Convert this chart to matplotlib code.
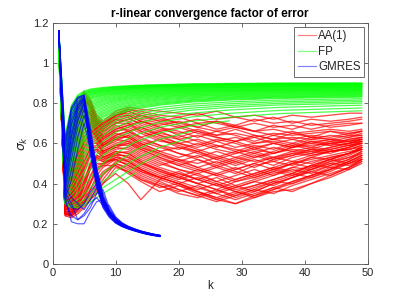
import numpy as np
import matplotlib
matplotlib.use("Agg")
import matplotlib.pyplot as plt
from matplotlib.ticker import FuncFormatter
from matplotlib.lines import Line2D

plt.rcParams['font.family'] = ['Liberation Sans', 'DejaVu Sans']

# ---------------- data ----------------
labels = ["AA(1)", "FP", "GMRES"]

# AA(1) curves (red), values at aa_k
aa_k = [1, 2, 3, 4, 5, 6, 7, 8, 10, 12, 14, 17, 20, 23, 26, 29, 32, 35, 38, 41, 44, 47, 49]
aa_curves = [
    [1.16,0.36,0.62,0.80,0.86,0.82,0.74,0.71,0.76,0.78,0.77,0.76,0.75,0.74,0.76,0.73,0.74,0.72,0.74,0.73,0.74,0.75,0.75],
    [1.16,0.34,0.58,0.78,0.85,0.80,0.72,0.70,0.75,0.77,0.76,0.74,0.73,0.75,0.72,0.73,0.71,0.73,0.70,0.72,0.71,0.72,0.73],
    [1.15,0.33,0.55,0.75,0.84,0.79,0.71,0.69,0.74,0.76,0.74,0.72,0.70,0.72,0.70,0.68,0.70,0.68,0.69,0.67,0.69,0.70,0.70],
    [1.15,0.32,0.52,0.72,0.83,0.77,0.70,0.68,0.72,0.74,0.71,0.69,0.71,0.68,0.66,0.68,0.66,0.67,0.65,0.66,0.67,0.66,0.67],
    [1.14,0.31,0.48,0.69,0.81,0.76,0.70,0.66,0.70,0.72,0.70,0.67,0.65,0.67,0.64,0.65,0.63,0.65,0.64,0.65,0.66,0.65,0.66],
    [1.14,0.30,0.44,0.65,0.78,0.74,0.68,0.64,0.68,0.70,0.67,0.64,0.62,0.64,0.61,0.63,0.60,0.62,0.63,0.62,0.64,0.63,0.65],
    [1.13,0.30,0.40,0.60,0.74,0.72,0.66,0.62,0.66,0.68,0.65,0.61,0.60,0.58,0.61,0.58,0.60,0.61,0.59,0.62,0.61,0.63,0.64],
    [1.13,0.29,0.37,0.55,0.70,0.70,0.65,0.60,0.64,0.66,0.62,0.59,0.57,0.60,0.57,0.55,0.58,0.60,0.58,0.60,0.62,0.61,0.63],
    [1.12,0.29,0.34,0.50,0.65,0.68,0.63,0.58,0.62,0.64,0.60,0.56,0.58,0.55,0.52,0.55,0.57,0.55,0.58,0.59,0.60,0.61,0.62],
    [1.12,0.28,0.32,0.45,0.60,0.65,0.62,0.57,0.60,0.62,0.58,0.55,0.52,0.50,0.53,0.50,0.53,0.55,0.57,0.56,0.58,0.60,0.61],
    [1.11,0.28,0.30,0.40,0.55,0.62,0.60,0.55,0.58,0.60,0.56,0.52,0.49,0.52,0.48,0.51,0.48,0.52,0.54,0.56,0.55,0.58,0.60],
    [1.11,0.27,0.29,0.36,0.50,0.58,0.58,0.54,0.57,0.58,0.54,0.50,0.47,0.45,0.48,0.45,0.49,0.51,0.49,0.53,0.56,0.57,0.59],
    [1.10,0.27,0.28,0.33,0.45,0.54,0.56,0.53,0.55,0.56,0.52,0.48,0.45,0.42,0.45,0.42,0.45,0.48,0.51,0.50,0.53,0.55,0.58],
    [1.10,0.26,0.27,0.31,0.40,0.50,0.54,0.52,0.54,0.54,0.50,0.46,0.43,0.40,0.37,0.41,0.43,0.46,0.44,0.48,0.51,0.54,0.57],
    [1.09,0.26,0.26,0.29,0.34,0.40,0.46,0.49,0.53,0.52,0.48,0.44,0.41,0.38,0.35,0.38,0.41,0.39,0.43,0.46,0.49,0.52,0.55],
    [1.09,0.25,0.25,0.28,0.31,0.34,0.39,0.44,0.51,0.50,0.46,0.42,0.39,0.36,0.33,0.36,0.34,0.38,0.41,0.44,0.47,0.50,0.53],
    [1.08,0.25,0.24,0.27,0.30,0.33,0.37,0.42,0.50,0.48,0.44,0.40,0.37,0.34,0.31,0.34,0.37,0.35,0.39,0.42,0.45,0.48,0.51],
    [1.08,0.24,0.24,0.26,0.29,0.32,0.35,0.40,0.48,0.46,0.42,0.38,0.40,0.36,0.32,0.30,0.33,0.36,0.37,0.40,0.43,0.47,0.50],
    [1.15,0.35,0.60,0.79,0.85,0.81,0.73,0.70,0.74,0.75,0.72,0.70,0.68,0.70,0.67,0.69,0.66,0.64,0.66,0.63,0.62,0.61,0.62],
    [1.14,0.33,0.50,0.71,0.82,0.78,0.71,0.67,0.71,0.73,0.69,0.66,0.68,0.65,0.63,0.61,0.63,0.60,0.62,0.60,0.59,0.60,0.61],
    [1.13,0.31,0.42,0.62,0.76,0.73,0.67,0.63,0.67,0.69,0.66,0.63,0.60,0.62,0.59,0.57,0.55,0.58,0.56,0.58,0.57,0.59,0.60],
    [1.12,0.29,0.35,0.52,0.67,0.69,0.64,0.59,0.63,0.65,0.61,0.58,0.55,0.53,0.56,0.53,0.51,0.53,0.55,0.54,0.56,0.57,0.58],
    [1.11,0.28,0.31,0.42,0.57,0.63,0.61,0.56,0.59,0.61,0.57,0.53,0.50,0.47,0.44,0.47,0.50,0.47,0.50,0.52,0.54,0.56,0.57],
    [1.10,0.27,0.28,0.34,0.47,0.55,0.57,0.53,0.56,0.55,0.51,0.46,0.43,0.40,0.43,0.39,0.42,0.45,0.48,0.47,0.51,0.53,0.56],
    [1.09,0.26,0.26,0.30,0.38,0.48,0.53,0.51,0.52,0.51,0.47,0.43,0.40,0.37,0.40,0.37,0.39,0.42,0.45,0.49,0.48,0.51,0.54],
    [1.08,0.25,0.25,0.28,0.32,0.40,0.48,0.49,0.49,0.45,0.41,0.36,0.39,0.35,0.32,0.35,0.38,0.41,0.40,0.43,0.46,0.50,0.52],
    [1.08,0.24,0.23,0.25,0.28,0.32,0.36,0.40,0.45,0.40,0.32,0.42,0.45,0.42,0.39,0.42,0.45,0.48,0.46,0.49,0.52,0.50,0.53],
    [1.15,0.34,0.57,0.77,0.85,0.80,0.72,0.69,0.73,0.76,0.73,0.71,0.73,0.70,0.71,0.69,0.72,0.70,0.71,0.69,0.70,0.71,0.72],
    [1.14,0.32,0.50,0.70,0.82,0.77,0.70,0.67,0.72,0.71,0.68,0.65,0.63,0.66,0.63,0.61,0.64,0.62,0.60,0.63,0.62,0.64,0.64],
    [1.13,0.30,0.43,0.63,0.77,0.74,0.68,0.64,0.69,0.66,0.63,0.66,0.62,0.59,0.62,0.60,0.57,0.60,0.58,0.61,0.60,0.62,0.63],
    [1.12,0.29,0.36,0.54,0.69,0.70,0.65,0.61,0.65,0.63,0.59,0.62,0.58,0.56,0.53,0.56,0.53,0.56,0.59,0.57,0.60,0.59,0.61],
    [1.11,0.28,0.31,0.44,0.58,0.64,0.62,0.58,0.61,0.64,0.60,0.56,0.53,0.56,0.52,0.49,0.52,0.49,0.53,0.55,0.57,0.59,0.60],
    [1.10,0.27,0.28,0.35,0.48,0.56,0.57,0.55,0.58,0.57,0.53,0.49,0.52,0.48,0.45,0.48,0.44,0.47,0.50,0.53,0.52,0.55,0.58],
    [1.09,0.26,0.26,0.30,0.39,0.47,0.52,0.51,0.55,0.53,0.49,0.45,0.42,0.45,0.41,0.38,0.41,0.44,0.47,0.45,0.49,0.52,0.56],
    [1.08,0.25,0.24,0.27,0.31,0.37,0.44,0.48,0.52,0.49,0.45,0.41,0.37,0.34,0.37,0.33,0.36,0.40,0.43,0.46,0.44,0.48,0.52],
    [1.15,0.33,0.54,0.74,0.84,0.78,0.71,0.68,0.73,0.74,0.71,0.68,0.66,0.63,0.66,0.64,0.61,0.64,0.62,0.64,0.63,0.65,0.66],
    [1.13,0.30,0.45,0.64,0.78,0.75,0.69,0.65,0.70,0.70,0.66,0.62,0.59,0.56,0.59,0.56,0.59,0.57,0.60,0.58,0.61,0.60,0.62],
    [1.12,0.29,0.38,0.56,0.71,0.71,0.66,0.62,0.66,0.67,0.63,0.59,0.55,0.52,0.49,0.52,0.55,0.52,0.55,0.57,0.56,0.58,0.60],
    [1.11,0.28,0.33,0.47,0.61,0.66,0.63,0.59,0.63,0.63,0.59,0.55,0.51,0.48,0.51,0.47,0.50,0.53,0.51,0.54,0.56,0.57,0.59],
    [1.10,0.27,0.29,0.38,0.51,0.58,0.59,0.56,0.59,0.59,0.55,0.51,0.47,0.44,0.41,0.44,0.47,0.44,0.48,0.51,0.53,0.55,0.57],
    [1.09,0.26,0.27,0.32,0.42,0.50,0.54,0.53,0.56,0.55,0.51,0.47,0.44,0.40,0.37,0.34,0.37,0.41,0.44,0.47,0.50,0.53,0.55],
    [1.08,0.25,0.25,0.29,0.34,0.41,0.47,0.50,0.53,0.51,0.47,0.43,0.40,0.36,0.33,0.30,0.34,0.37,0.41,0.44,0.47,0.51,0.54],
    [1.09,0.25,0.25,0.28,0.32,0.37,0.42,0.46,0.50,0.47,0.43,0.39,0.36,0.39,0.35,0.32,0.35,0.38,0.36,0.40,0.44,0.48,0.52],
    [1.14,0.32,0.52,0.73,0.83,0.79,0.72,0.69,0.74,0.77,0.75,0.73,0.70,0.68,0.71,0.68,0.66,0.69,0.67,0.70,0.68,0.69,0.70],
    [1.13,0.31,0.46,0.66,0.79,0.75,0.69,0.66,0.70,0.72,0.74,0.71,0.69,0.66,0.64,0.67,0.64,0.62,0.65,0.63,0.66,0.64,0.66],
    [1.12,0.29,0.40,0.58,0.73,0.72,0.67,0.63,0.67,0.69,0.71,0.68,0.64,0.61,0.58,0.61,0.58,0.55,0.58,0.61,0.59,0.62,0.63],
    [1.11,0.28,0.34,0.49,0.63,0.67,0.64,0.60,0.64,0.66,0.68,0.64,0.60,0.57,0.54,0.51,0.54,0.51,0.54,0.57,0.56,0.58,0.61],
    [1.09,0.26,0.25,0.29,0.36,0.44,0.50,0.50,0.52,0.49,0.46,0.43,0.46,0.42,0.39,0.36,0.39,0.42,0.45,0.43,0.47,0.51,0.54],
    [1.10,0.27,0.27,0.31,0.41,0.49,0.53,0.52,0.55,0.53,0.50,0.47,0.43,0.47,0.44,0.41,0.44,0.47,0.45,0.49,0.52,0.55,0.57],
    [1.08,0.25,0.24,0.27,0.30,0.35,0.40,0.45,0.49,0.46,0.42,0.39,0.35,0.33,0.36,0.39,0.36,0.40,0.43,0.47,0.50,0.49,0.52],
    [1.11,0.28,0.30,0.39,0.53,0.60,0.60,0.56,0.59,0.60,0.57,0.53,0.49,0.46,0.49,0.46,0.43,0.46,0.50,0.48,0.52,0.55,0.58],
    [1.12,0.29,0.33,0.48,0.63,0.67,0.63,0.59,0.62,0.61,0.58,0.54,0.51,0.54,0.50,0.53,0.56,0.53,0.56,0.55,0.58,0.60,0.62],
    [1.09,0.26,0.26,0.29,0.35,0.43,0.49,0.50,0.54,0.51,0.47,0.43,0.40,0.43,0.40,0.36,0.33,0.37,0.40,0.44,0.48,0.47,0.51],
]

# FP curves (green), values at fp_k (None = iteration stopped)
fp_k = [1, 2, 3, 4, 5, 6, 8, 10, 13, 17, 22, 28, 36, 49]
fp_curves = [
    [1.16,0.64,0.79,0.84,0.86,0.87,0.878,0.883,0.888,0.892,0.896,0.898,0.90,0.90],
    [1.16,0.62,0.78,0.835,0.855,0.866,0.875,0.880,0.886,0.890,0.894,0.896,0.898,0.899],
    [1.16,0.60,0.77,0.83,0.85,0.862,0.872,0.878,0.884,0.889,0.893,0.895,0.897,0.898],
    [1.15,0.58,0.76,0.825,0.848,0.859,0.869,0.875,0.882,0.887,0.891,0.893,0.895,0.896],
    [1.15,0.57,0.75,0.82,0.845,0.856,0.866,0.873,0.880,0.886,0.890,0.892,0.894,0.895],
    [1.15,0.56,0.74,0.81,0.84,0.852,0.863,0.870,0.878,0.884,0.888,0.890,0.892,0.894],
    [1.15,0.55,0.73,0.80,0.835,0.848,0.860,0.868,0.876,0.882,0.886,0.889,0.891,0.892],
    [1.14,0.53,0.72,0.795,0.83,0.844,0.856,0.865,0.873,0.880,0.884,0.887,0.889,0.891],
    [1.14,0.52,0.71,0.79,0.825,0.840,0.853,0.862,0.871,0.878,0.882,0.885,0.887,0.889],
    [1.14,0.51,0.70,0.78,0.818,0.835,0.849,0.858,0.868,0.875,0.880,0.883,0.885,0.887],
    [1.14,0.50,0.69,0.77,0.81,0.830,0.845,0.855,0.865,0.872,0.877,0.880,0.883,0.885],
    [1.13,0.49,0.68,0.76,0.805,0.825,0.841,0.851,0.861,0.869,0.874,0.878,0.881,0.883],
    [1.13,0.48,0.67,0.75,0.80,0.820,0.837,0.848,0.858,0.866,0.872,0.876,0.879,0.881],
    [1.13,0.47,0.66,0.74,0.79,0.812,0.831,0.844,0.854,0.863,0.869,0.873,0.876,0.879],
    [1.13,0.46,0.65,0.73,0.78,0.805,0.826,0.840,0.851,0.860,0.866,0.870,0.874,0.877],
    [1.12,0.455,0.635,0.72,0.77,0.797,0.820,0.835,0.847,0.856,0.863,0.867,0.871,0.874],
    [1.12,0.45,0.62,0.71,0.76,0.790,0.815,0.830,0.843,0.853,0.860,0.865,0.869,0.872],
    [1.12,0.445,0.61,0.70,0.75,0.782,0.809,0.825,0.839,0.849,0.857,0.862,0.866,0.869],
    [1.12,0.44,0.60,0.69,0.74,0.775,0.803,0.820,0.835,0.846,0.854,0.859,0.864,0.867],
    [1.11,0.435,0.59,0.68,0.73,0.767,0.796,0.815,0.830,0.842,0.850,0.856,0.861,0.864],
    [1.11,0.43,0.58,0.67,0.72,0.760,0.790,0.810,0.826,0.838,0.847,0.853,0.858,0.862],
    [1.11,0.425,0.57,0.66,0.71,0.75,0.782,0.804,0.821,0.834,0.843,0.849,0.855,0.859],
    [1.11,0.42,0.56,0.65,0.70,0.74,0.775,0.798,0.816,0.830,0.840,0.846,0.852,0.856],
    [1.10,0.415,0.55,0.635,0.69,0.73,0.767,0.791,0.810,0.825,0.836,0.842,0.848,0.853],
    [1.10,0.41,0.54,0.62,0.68,0.72,0.76,0.785,0.805,0.821,0.832,0.839,0.845,0.850],
    [1.10,0.405,0.53,0.61,0.67,0.71,0.752,0.778,0.799,0.816,0.827,0.835,0.841,0.847],
    [1.10,0.40,0.52,0.60,0.66,0.70,0.745,0.772,0.794,0.811,0.823,0.831,0.838,0.844],
    [1.09,0.395,0.51,0.59,0.645,0.69,0.737,0.765,0.788,0.805,0.818,0.827,0.834,0.840],
    [1.09,0.39,0.50,0.58,0.63,0.68,0.73,0.758,0.782,0.800,0.814,0.823,0.831,0.837],
    [1.09,0.385,0.49,0.57,0.62,0.67,0.72,0.75,0.776,0.795,0.810,0.819,0.827,0.833],
    [1.09,0.38,0.48,0.56,0.61,0.66,0.71,0.743,0.770,0.790,0.805,0.815,0.823,0.830],
    [1.08,0.37,0.46,0.53,0.59,0.64,0.69,0.727,0.757,0.779,0.795,0.806,0.815,0.822],
    [1.08,0.36,0.44,0.51,0.57,0.62,0.675,0.712,0.744,0.768,0.785,0.797,0.807,0.815],
    [1.07,0.35,0.42,0.49,0.55,0.60,0.66,0.697,0.730,0.756,0.775,0.788,0.799,0.808],
    [1.07,0.34,0.40,0.47,0.53,0.58,0.64,0.680,0.716,0.744,0.765,0.779,0.791,0.800],
    [1.06,0.33,0.38,0.44,0.50,0.55,0.61,0.655,0.695,0.727,0.750,0.766,0.779,0.790],
    [1.06,0.33,0.36,0.41,0.46,0.51,0.58,0.625,0.668,0.705,0.731,0.749,0.764,0.776],
    [1.05,0.32,0.34,0.38,0.43,0.47,0.54,0.59,0.64,0.68,0.71,0.73,0.748,0.762],
    [1.05,0.31,0.32,0.35,0.39,0.43,0.50,0.55,0.605,0.652,0.688,0.712,None,None],
    [1.04,0.31,0.30,0.32,0.35,0.38,0.45,0.50,0.565,0.62,0.66,None,None,None],
    [1.04,0.30,0.29,0.30,0.32,0.35,0.41,0.46,0.52,0.58,0.63,None,None,None],
    [1.03,0.30,0.28,0.29,0.30,0.33,0.38,0.42,0.48,0.55,None,None,None,None],
    [1.03,0.30,0.28,0.28,0.29,0.31,0.35,0.39,0.45,None,None,None,None,None],
]

# GMRES curves (blue), values at gmres_k
gmres_k = list(range(1, 18))
gmres_curves = [
    [1.16,0.62,0.78,0.83,0.84,0.62,0.43,0.31,0.25,0.215,0.195,0.18,0.17,0.16,0.152,0.145,0.14],
    [1.16,0.60,0.77,0.825,0.84,0.68,0.48,0.35,0.27,0.228,0.202,0.186,0.174,0.164,0.156,0.148,0.143],
    [1.16,0.58,0.76,0.82,0.835,0.60,0.42,0.30,0.245,0.21,0.19,0.178,0.168,0.158,0.15,0.144,0.139],
    [1.16,0.55,0.74,0.81,0.83,0.64,0.45,0.32,0.255,0.22,0.197,0.182,0.171,0.161,0.153,0.146,0.141],
    [1.16,0.52,0.72,0.80,0.825,0.58,0.40,0.29,0.24,0.207,0.188,0.176,0.166,0.157,0.149,0.143,0.138],
    [1.16,0.50,0.70,0.79,0.83,0.54,0.38,0.28,0.232,0.203,0.186,0.174,0.164,0.155,0.147,0.141,0.136],
    [1.16,0.48,0.69,0.79,0.82,0.66,0.47,0.34,0.265,0.225,0.20,0.185,0.173,0.163,0.155,0.147,0.142],
    [1.16,0.45,0.66,0.78,0.815,0.56,0.39,0.285,0.235,0.205,0.187,0.175,0.165,0.156,0.148,0.142,0.137],
    [1.16,0.44,0.64,0.77,0.82,0.65,0.46,0.33,0.26,0.222,0.198,0.183,0.172,0.162,0.154,0.147,0.142],
    [1.16,0.42,0.63,0.76,0.81,0.62,0.44,0.31,0.25,0.213,0.192,0.179,0.169,0.159,0.151,0.145,0.14],
    [1.16,0.40,0.60,0.74,0.80,0.60,0.41,0.30,0.245,0.21,0.19,0.177,0.167,0.158,0.15,0.144,0.139],
    [1.16,0.38,0.58,0.72,0.80,0.58,0.40,0.30,0.242,0.208,0.189,0.176,0.166,0.157,0.149,0.143,0.138],
    [1.16,0.37,0.56,0.71,0.79,0.63,0.46,0.33,0.26,0.22,0.196,0.181,0.17,0.16,0.152,0.146,0.141],
    [1.16,0.35,0.52,0.68,0.77,0.59,0.42,0.31,0.25,0.214,0.193,0.179,0.168,0.159,0.151,0.145,0.14],
    [1.16,0.33,0.47,0.63,0.74,0.61,0.44,0.32,0.255,0.218,0.195,0.18,0.17,0.16,0.152,0.146,0.14],
    [1.16,0.32,0.42,0.57,0.70,0.57,0.43,0.31,0.25,0.215,0.193,0.178,0.168,0.159,0.151,0.145,0.14],
    [1.16,0.31,0.24,0.22,0.25,0.30,0.33,0.29,0.25,0.215,0.194,0.18,0.169,0.16,0.152,0.146,0.14],
    [1.16,0.33,0.21,0.20,0.20,0.26,0.31,0.32,0.26,0.22,0.197,0.182,0.171,0.161,0.153,0.147,0.141],
    [1.16,0.34,0.28,0.27,0.30,0.36,0.40,0.33,0.265,0.224,0.20,0.184,0.172,0.162,0.154,0.147,0.141],
    [1.16,0.36,0.30,0.22,0.24,0.28,0.35,0.37,0.28,0.23,0.203,0.186,0.174,0.163,0.155,0.148,0.142],
    [1.16,0.38,0.33,0.30,0.27,0.32,0.38,0.30,0.29,0.235,0.206,0.188,0.175,0.164,0.156,0.149,0.143],
]

x_ticks = [0, 10, 20, 30, 40, 50]
y_ticks = [0, 0.2, 0.4, 0.6, 0.8, 1.0, 1.2]

# ---------------- plot ----------------
W, H = 407, 297
fig = plt.figure(figsize=(W / 100, H / 100), dpi=100)
ax = fig.add_axes([52.5 / W, 33 / H, (368 - 52.5) / W, (264 - 22.7) / H])

colors = {"AA(1)": (1, 0, 0), "FP": (0, 1, 0), "GMRES": (0, 0, 1)}

for row in aa_curves:
    ax.plot(aa_k, np.array(row, dtype=float), color=colors["AA(1)"], lw=0.95, alpha=0.7)
for row in fp_curves:
    ax.plot(fp_k, np.array(row, dtype=float), color=colors["FP"], lw=0.9, alpha=0.7)
for row in gmres_curves:
    ax.plot(gmres_k, np.array(row, dtype=float), color=colors["GMRES"], lw=0.85, alpha=0.65)

ax.set_xlim(0, 50)
ax.set_ylim(0, 1.2)
ax.set_xticks(x_ticks)
ax.set_yticks(y_ticks)
ax.yaxis.set_major_formatter(FuncFormatter(lambda v, p: "%g" % v))

tc = "#262626"
for s in ax.spines.values():
    s.set_color("#555555")
    s.set_linewidth(0.6)
ax.tick_params(direction="in", length=3, width=0.6, top=True, right=True,
               colors="#555555", labelcolor=tc, labelsize=8, pad=3)

ax.set_title("r-linear convergence factor of error", fontsize=8.5, fontweight="bold",
             color="black", pad=4)
ax.set_xlabel("k", fontsize=8.5, color=tc, labelpad=1)
ax.set_ylabel(r"$\sigma_k$", fontsize=9, color=tc, labelpad=2)

handles = [Line2D([], [], color=colors[l], lw=0.85, alpha=0.5) for l in labels]
leg = ax.legend(handles, labels, loc="upper right", fontsize=8.3, frameon=True,
                fancybox=False, edgecolor="#555555", framealpha=1,
                handlelength=1.6, handletextpad=0.15, borderpad=0.3,
                labelspacing=0.3, borderaxespad=0.35)
leg.get_frame().set_linewidth(0.6)
for t in leg.get_texts():
    t.set_color(tc)

fig.savefig("out.png", dpi=100)
